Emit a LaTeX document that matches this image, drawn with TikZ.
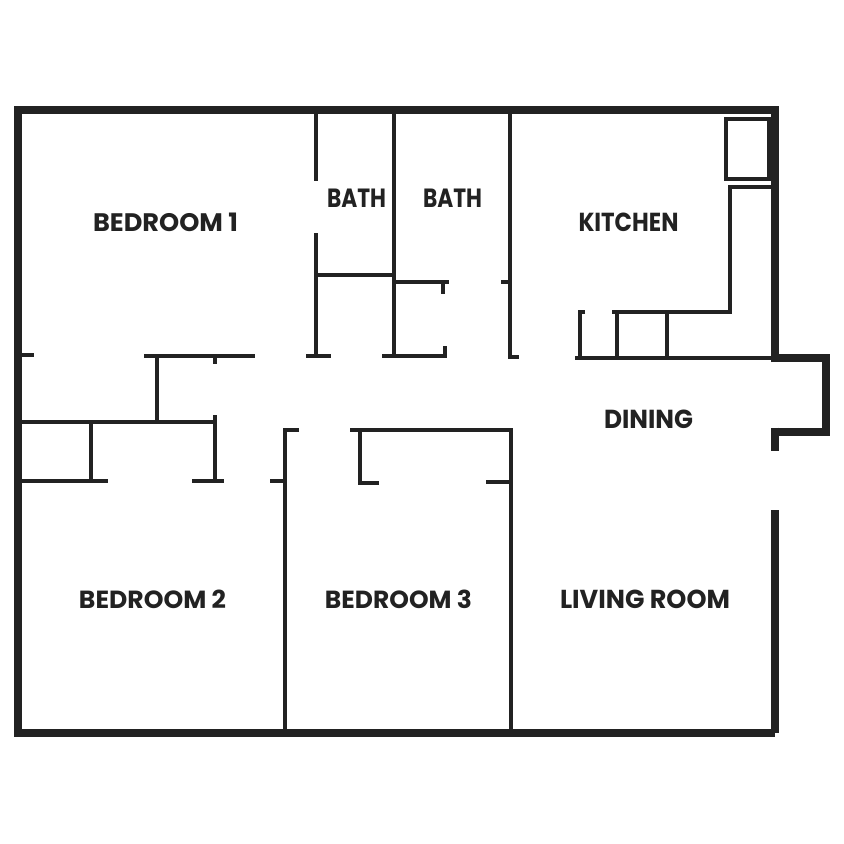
\documentclass[tikz,border=0pt]{standalone}
\usepackage{fontspec}
\setmainfont{Poppins}
\definecolor{ink}{HTML}{222222}
\newcommand{\fitlabel}[2]{\resizebox{#1pt}{18.5pt}{#2}}
\tikzset{
  outerwall/.style={draw=ink, line width=8pt},
  innerwall/.style={draw=ink, line width=4pt},
  room/.style={text=ink, font=\bfseries\fontsize{24}{24}\selectfont, inner sep=0pt}
}
\begin{document}
\begin{tikzpicture}[x=1pt,y=-1pt]
   \useasboundingbox (0,0) rectangle (844,844);

   \node[room] (bed1) at (165.5,222.5) {\fitlabel{145}{BEDROOM 1}};
   \node[room] (bath1) at (356.5,198.5) {\fitlabel{59}{BATH}};
   \node[room] (bath2) at (452.5,198.5) {\fitlabel{59}{BATH}};
   \node[room] (kitchen) at (628.5,222.5) {\fitlabel{100}{KITCHEN}};
   \node[room] (dining) at (648.5,419.5) {\fitlabel{89}{DINING}};
   \node[room] (bed2) at (152.5,599.5) {\fitlabel{147}{BEDROOM 2}};
   \node[room] (bed3) at (398.5,599.5) {\fitlabel{147}{BEDROOM 3}};
   \node[room] (living) at (645,599.5) {\fitlabel{170}{LIVING ROOM}};

   % outer shell
   \draw[outerwall] (775,362) -- (775,110) -- (18,110) -- (18,733) -- (775,733);
   \draw[outerwall] (775,733) -- (775,510);
   \draw[outerwall] (771,358) -- (826,358) -- (826,431.5) -- (771,431.5);
   \draw[outerwall] (775,427.5) -- (775,451);

   % bedroom 1 and closets
   \draw[innerwall] (22,355) -- (34,355);
   \draw[innerwall] (144,356) -- (255,356);
   \draw[innerwall] (215,356) -- (215,364);
   \draw[innerwall] (156.5,356) -- (156.5,422);
   \draw[innerwall] (22,422) -- (217,422);
   \draw[innerwall] (215,415) -- (215,481);
   \draw[innerwall] (192,481) -- (224,481);
   \draw[innerwall] (22,481) -- (108,481);
   \draw[innerwall] (91,422) -- (91,481);

   % baths
   \draw[innerwall] (316,114) -- (316,181);
   \draw[innerwall] (316,233) -- (316,356);
   \draw[innerwall] (306,356) -- (331,356);
   \draw[innerwall] (316,275) -- (394,275);
   \draw[innerwall] (394,114) -- (394,356);
   \draw[innerwall] (382,356) -- (445,356) -- (445,346);
   \draw[innerwall] (394,282) -- (449,282);
   \draw[innerwall] (443,282) -- (443,294);
   \draw[innerwall] (510,114) -- (510,357) -- (519,357);
   \draw[innerwall] (501,282) -- (510,282);

   % kitchen
   \draw[innerwall] (725.5,119) rectangle (769,179);
   \draw[innerwall] (771,187) -- (730,187) -- (730,312) -- (612,312);
   \draw[innerwall] (617,312) -- (617,358);
   \draw[innerwall] (667,312) -- (667,358);
   \draw[innerwall] (575,358) -- (771,358);
   \draw[innerwall] (585,312) -- (580,312) -- (580,358);

   % bedrooms 2 and 3
   \draw[innerwall] (299,430) -- (285,430) -- (285,729);
   \draw[innerwall] (270,481) -- (285,481);
   \draw[innerwall] (350,430) -- (511,430) -- (511,729);
   \draw[innerwall] (379,483) -- (360,483) -- (360,430);
   \draw[innerwall] (486,482) -- (511,482);
\end{tikzpicture}
\end{document}
